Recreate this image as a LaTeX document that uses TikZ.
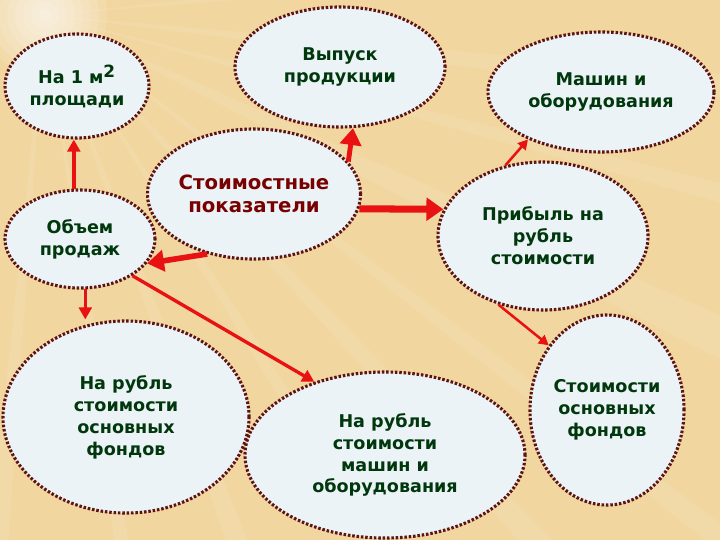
\documentclass[tikz,border=0pt]{standalone}
\usepackage{fontspec}
\setmainfont{DejaVu Sans}
\usetikzlibrary{shapes.geometric,arrows.meta}

\definecolor{sand}{RGB}{241,214,160}
\definecolor{ovalfill}{RGB}{235,243,246}
\definecolor{ovalline}{RGB}{95,20,20}
\definecolor{arrowred}{RGB}{232,18,18}
\definecolor{textgreen}{RGB}{0,55,12}
\definecolor{textred}{RGB}{120,0,0}

\tikzset{
  oval/.style={ellipse, draw=ovalline, fill=ovalfill, line width=2.2pt,
    dash pattern=on 1.8pt off 1.3pt, inner sep=0pt, align=center,
    text=textgreen, font=\bfseries\fontsize{12.5}{15.6}\selectfont},
  thinarr/.style={draw=arrowred, line width=1.8pt, -{Triangle[length=7pt,width=7.5pt]}},
  arr/.style={draw=arrowred, line width=2.4pt, -{Triangle[length=8.5pt,width=9pt]}},
  thickarr/.style={draw=arrowred, line width=4pt, -{Triangle[length=12pt,width=15pt]}}
}

\begin{document}
\begin{tikzpicture}[x=0.025cm, y=-0.025cm]
      % Background
      \useasboundingbox (0,0) rectangle (720,540);
      \fill[sand] (0,0) rectangle (720,540);
      \begin{scope}
        \clip (0,0) rectangle (720,540);
        \foreach \a/\w in {-6/1.5, 5/2, 14/1.5, 24/3, 37/1.5, 46/2, 57/1.5, 69/2, 81/1.5, 94/2}
          \fill[white, opacity=0.09, shift={(45,15)}] (0,0) -- (\a:1000) -- (\a+\w:1000) -- cycle;
        \foreach \r in {6,14,...,62}
          \fill[white, opacity=0.12] (45,15) circle (\r);
      \end{scope}

      % Nodes
      \node (area) at (77,86) [oval, minimum width=3.6cm, minimum height=2.6cm] {На 1 м\textsuperscript{\large 2}\\площади};
      \node (output) at (340,67) [oval, minimum width=5.25cm, minimum height=3cm] {Выпуск\\продукции};
      \node (machines) at (601,92) [oval, minimum width=5.65cm, minimum height=3cm] {Машин и\\оборудования};
      \node (cost) at (254,194) [oval, minimum width=5.3cm, minimum height=3.25cm,
        text=textred, font=\bfseries\fontsize{14}{16.5}\selectfont] {Стоимостные\\показатели};
      \node (sales) at (80,239) [oval, minimum width=3.75cm, minimum height=2.45cm] {Объем\\продаж};
      \node (profit) at (543,236) [oval, minimum width=5.25cm, minimum height=3.7cm] {Прибыль на\\рубль\\стоимости};
      \node (perfunds) at (126,417) [oval, minimum width=6.15cm, minimum height=4.8cm] {На рубль\\стоимости\\основных\\фондов};
      \node (permach) at (385,455) [oval, minimum width=7cm, minimum height=4.15cm] {На рубль\\стоимости\\машин и\\оборудования};
      \node (funds) at (607,410) [oval, minimum width=3.85cm, minimum height=4.75cm] {Стоимости\\основных\\фондов};

      % Edges
      \draw[arr] (sales.97) -- (sales.97 |- area.south);
      \draw[thickarr, line width=3.5pt] (cost.19) -- (output.282);
      \draw[thickarr, line width=5pt, -{Triangle[length=12pt,width=16pt]}] (cost.-8) -- (profit.165);
      \draw[thickarr] (cost.232) -- (sales.-20);
      \draw[arr] (sales.-84) -- (sales.-84 |- perfunds.north);
      \draw[arr] (sales.-35) -- (permach.134);
      \draw[thinarr] (profit.118) -- (machines.213);
      \draw[thinarr] (profit.237) -- (funds.132);
\end{tikzpicture}
\end{document}
